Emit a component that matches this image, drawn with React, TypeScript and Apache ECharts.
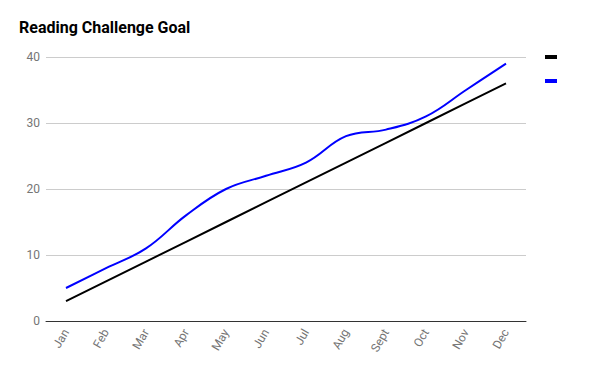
import React, { useEffect, useRef } from "react";
import * as echarts from "echarts";

const months = ["Jan", "Feb", "Mar", "Apr", "May", "Jun", "Jul", "Aug", "Sept", "Oct", "Nov", "Dec"];
const goalValues = [3, 6, 9, 12, 15, 18, 21, 24, 27, 30, 33, 36];
const readValues = [5, 8, 11, 16, 20, 22, 24, 28, 29, 31, 35, 39];
const yTicks = { min: 0, max: 40, interval: 10 };

export default function App() {
  const ref = useRef<HTMLDivElement>(null);
  useEffect(() => {
    if (!ref.current) return;
    const chart = echarts.init(ref.current, undefined, { renderer: "svg" });
    chart.setOption({
      animation: false,
      backgroundColor: "#ffffff",
      title: {
        text: "Reading Challenge Goal",
        left: 19,
        top: 19,
        padding: 0,
        textStyle: { fontFamily: "Roboto", fontWeight: "bold", fontSize: 16, color: "#000000" },
      },
      legend: {
        orient: "vertical",
        left: 545,
        top: 55,
        padding: 0,
        itemWidth: 12,
        itemHeight: 4,
        itemGap: 20,
        icon: "rect",
        formatter: () => "",
        data: [
          { name: "Goal", itemStyle: { color: "#000000" } },
          { name: "Read", itemStyle: { color: "#0000ff" } },
        ],
      },
      grid: { left: 46, right: 74, top: 57, bottom: 50, containLabel: false },
      xAxis: {
        type: "category",
        data: months,
        boundaryGap: true,
        axisLine: { show: true, lineStyle: { color: "#333333", width: 1 } },
        axisTick: { show: false },
        axisLabel: {
          rotate: 60,
          color: "#757575",
          fontFamily: "Roboto",
          fontSize: 12,
          margin: 9,
        },
      },
      yAxis: {
        type: "value",
        min: yTicks.min,
        max: yTicks.max,
        interval: yTicks.interval,
        axisLine: { show: false },
        axisTick: { show: false },
        splitLine: { lineStyle: { color: "#cccccc", width: 1 } },
        axisLabel: { color: "#757575", fontFamily: "Roboto", fontSize: 12, margin: 6 },
      },
      series: [
        {
          name: "Goal",
          type: "line",
          data: goalValues,
          showSymbol: false,
          symbol: "none",
          lineStyle: { color: "#000000", width: 2 },
          itemStyle: { color: "#000000" },
        },
        {
          name: "Read",
          type: "line",
          data: readValues,
          smooth: 0.4,
          showSymbol: false,
          symbol: "none",
          lineStyle: { color: "#0000ff", width: 2 },
          itemStyle: { color: "#0000ff" },
        },
      ],
    });
    return () => chart.dispose();
  }, []);
  return <div ref={ref} style={{ width: 600, height: 371, position: "absolute", left: 0, top: 0 }} />;
}
